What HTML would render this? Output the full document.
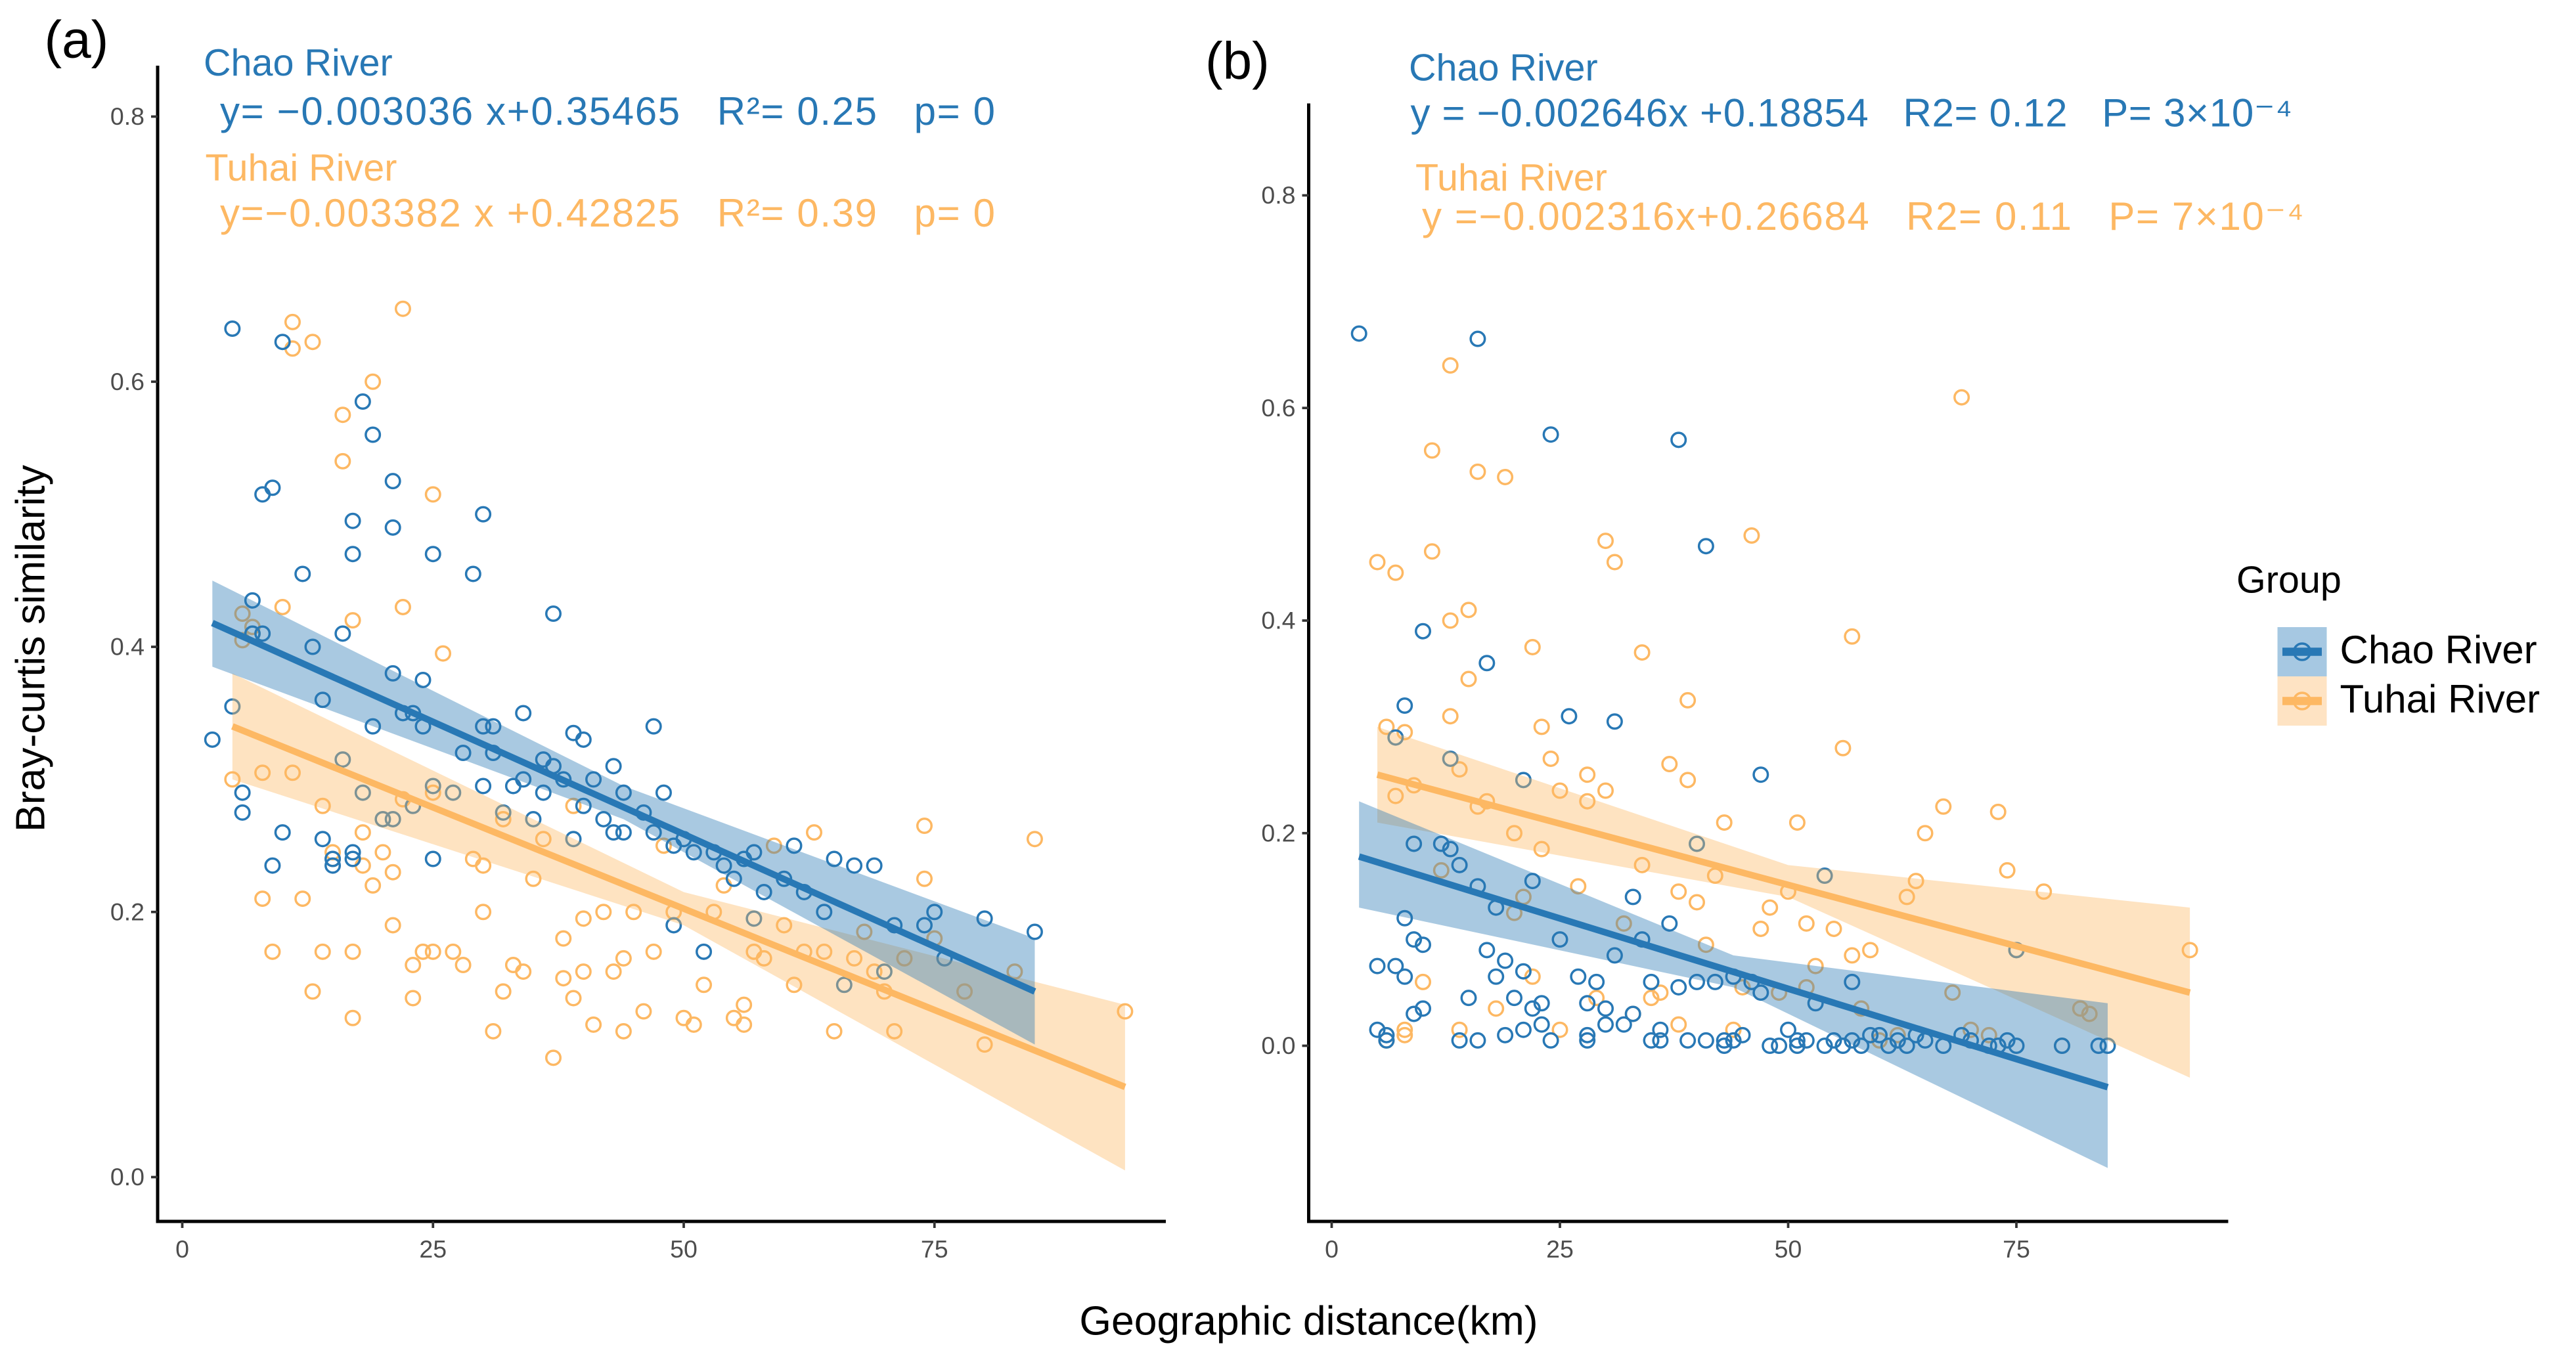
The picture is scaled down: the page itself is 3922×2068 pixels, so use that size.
<!DOCTYPE html>
<html><head><meta charset="utf-8"><style>
html,body{margin:0;padding:0;background:#fff;}
svg{display:block;}
text{font-family:"Liberation Sans",Arial,sans-serif;white-space:pre;}
</style></head><body>
<svg id="chart" width="3922" height="2068" viewBox="0 0 1568.8 827.2" xmlns="http://www.w3.org/2000/svg">
<g id="layer"></g>
</svg>
<script>
const yTicks=[0.0,0.2,0.4,0.6,0.8];
const xTicks=[0,25,50,75];
const chaoA=[[3,0.33],[5,0.64],[5,0.355],[6,0.29],[6,0.275],[7,0.435],[7,0.41],[8,0.41],[8,0.515],[9,0.52],[9,0.235],[10,0.63],[10,0.26],[12,0.455],[13,0.4],[14,0.255],[14,0.36],[15,0.24],[15,0.235],[16,0.41],[16,0.315],[17,0.47],[17,0.495],[17,0.24],[17,0.245],[18,0.29],[18,0.585],[19,0.34],[19,0.56],[20,0.27],[21,0.49],[21,0.525],[21,0.38],[21,0.27],[22,0.35],[23,0.35],[23,0.28],[24,0.34],[24,0.375],[25,0.47],[25,0.24],[25,0.295],[27,0.29],[28,0.32],[29,0.455],[30,0.5],[30,0.34],[30,0.295],[31,0.34],[31,0.32],[32,0.275],[33,0.295],[34,0.3],[34,0.35],[35,0.27],[36,0.315],[36,0.29],[37,0.425],[37,0.31],[38,0.3],[39,0.335],[39,0.255],[40,0.33],[40,0.28],[41,0.3],[42,0.27],[43,0.31],[43,0.26],[44,0.26],[44,0.29],[46,0.275],[47,0.34],[47,0.26],[48,0.29],[49,0.25],[49,0.19],[50,0.255],[51,0.245],[52,0.17],[53,0.245],[54,0.235],[55,0.225],[56,0.24],[57,0.245],[57,0.195],[58,0.215],[60,0.225],[61,0.25],[62,0.215],[64,0.2],[65,0.24],[66,0.145],[67,0.235],[69,0.235],[70,0.155],[71,0.19],[74,0.19],[75,0.2],[76,0.165],[80,0.195],[85,0.185]];
const tuhaiA=[[5,0.3],[6,0.425],[6,0.405],[7,0.41],[7,0.415],[8,0.21],[8,0.305],[9,0.17],[10,0.43],[11,0.645],[11,0.625],[11,0.305],[12,0.21],[13,0.63],[13,0.14],[14,0.17],[14,0.28],[15,0.245],[15,0.24],[16,0.575],[16,0.54],[17,0.17],[17,0.12],[17,0.42],[18,0.26],[18,0.235],[19,0.6],[19,0.22],[20,0.245],[21,0.19],[21,0.23],[22,0.655],[22,0.285],[22,0.43],[23,0.135],[23,0.16],[24,0.17],[25,0.17],[25,0.29],[25,0.515],[26,0.395],[27,0.17],[28,0.16],[29,0.24],[30,0.2],[30,0.235],[31,0.11],[32,0.27],[32,0.14],[33,0.16],[34,0.155],[35,0.225],[36,0.255],[37,0.09],[38,0.15],[38,0.18],[39,0.135],[39,0.28],[40,0.155],[40,0.195],[41,0.115],[42,0.2],[43,0.155],[44,0.11],[44,0.165],[45,0.2],[46,0.125],[47,0.17],[48,0.25],[49,0.2],[50,0.12],[51,0.115],[52,0.145],[53,0.2],[54,0.22],[55,0.12],[56,0.13],[56,0.115],[57,0.17],[58,0.165],[59,0.25],[60,0.19],[61,0.145],[62,0.17],[63,0.26],[64,0.17],[65,0.11],[67,0.165],[68,0.185],[69,0.155],[70,0.14],[71,0.11],[72,0.165],[74,0.265],[74,0.225],[75,0.18],[78,0.14],[80,0.1],[83,0.155],[85,0.255],[94,0.125]];
const chaoB=[[3,0.67],[5,0.075],[5,0.015],[6,0.01],[6,0.005],[7,0.075],[7,0.29],[8,0.32],[8,0.12],[8,0.065],[9,0.1],[9,0.03],[9,0.19],[10,0.39],[10,0.095],[10,0.035],[12,0.19],[13,0.27],[13,0.185],[14,0.17],[14,0.005],[15,0.045],[16,0.15],[16,0.665],[16,0.005],[17,0.36],[17,0.09],[18,0.065],[18,0.13],[19,0.08],[19,0.01],[20,0.045],[21,0.25],[21,0.015],[21,0.07],[22,0.155],[22,0.035],[23,0.04],[23,0.02],[24,0.575],[24,0.005],[25,0.1],[26,0.31],[27,0.065],[28,0.005],[28,0.01],[28,0.04],[29,0.06],[30,0.02],[30,0.035],[31,0.305],[31,0.085],[32,0.02],[33,0.14],[33,0.03],[34,0.1],[35,0.06],[35,0.005],[36,0.005],[36,0.015],[37,0.115],[38,0.57],[38,0.055],[39,0.005],[40,0.19],[40,0.06],[41,0.005],[41,0.47],[42,0.06],[43,0.005],[43,0.0],[44,0.005],[44,0.065],[45,0.01],[46,0.06],[47,0.255],[47,0.05],[48,0.0],[49,0.0],[50,0.015],[51,0.005],[51,0.0],[52,0.005],[53,0.04],[54,0.16],[54,0.0],[55,0.005],[56,0.0],[57,0.06],[57,0.005],[58,0.0],[59,0.01],[60,0.01],[61,0.0],[62,0.005],[63,0.0],[64,0.01],[65,0.005],[67,0.0],[69,0.01],[70,0.005],[72,0.0],[73,0.0],[74,0.005],[75,0.09],[75,0.0],[80,0.0],[84,0.0],[85,0.0]];
const tuhaiB=[[5,0.455],[6,0.005],[6,0.3],[7,0.445],[7,0.235],[8,0.295],[8,0.015],[8,0.01],[9,0.245],[10,0.06],[11,0.56],[11,0.465],[12,0.165],[13,0.64],[13,0.4],[13,0.31],[14,0.015],[14,0.26],[15,0.41],[15,0.345],[16,0.54],[16,0.225],[17,0.23],[18,0.035],[19,0.535],[20,0.2],[20,0.125],[21,0.14],[22,0.375],[22,0.065],[23,0.3],[23,0.185],[24,0.27],[25,0.015],[25,0.24],[27,0.15],[28,0.255],[28,0.23],[29,0.045],[30,0.475],[30,0.24],[31,0.455],[32,0.115],[33,0.03],[34,0.37],[34,0.17],[35,0.045],[36,0.05],[37,0.265],[38,0.145],[38,0.02],[39,0.325],[39,0.25],[40,0.135],[41,0.095],[42,0.16],[43,0.21],[44,0.015],[45,0.055],[46,0.48],[47,0.11],[48,0.13],[49,0.05],[50,0.145],[51,0.21],[52,0.055],[52,0.115],[53,0.075],[55,0.11],[56,0.28],[57,0.385],[57,0.085],[58,0.035],[59,0.09],[60,0.005],[62,0.01],[63,0.14],[64,0.155],[65,0.2],[67,0.225],[68,0.05],[69,0.61],[70,0.015],[72,0.01],[73,0.22],[74,0.165],[75,0.09],[78,0.145],[80,0.0],[82,0.035],[83,0.03],[94,0.09]];
// fit lines: [x0, y0, x1, y1]
const fitChaoA=[3,0.418,85,0.14];
const fitTuhaiA=[5,0.34,94,0.068];
const fitChaoB=[3,0.178,85,-0.039];
const fitTuhaiB=[5,0.255,94,0.05];
// confidence bands: [x, lower, upper]
const bandChaoA=[[3,0.385,0.45],[44,0.27,0.295],[85,0.10,0.18]];
const bandTuhaiA=[[5,0.30,0.38],[50,0.19,0.215],[94,0.005,0.13]];
const bandChaoB=[[3,0.13,0.23],[44,0.055,0.085],[85,-0.115,0.04]];
const bandTuhaiB=[[5,0.21,0.30],[50,0.14,0.17],[94,-0.03,0.13]];

const NS='http://www.w3.org/2000/svg';
const layer=document.getElementById('layer');
function mk(tag,attrs,parent){const e=document.createElementNS(NS,tag);for(const k in attrs)e.setAttribute(k,attrs[k]);(parent||layer).appendChild(e);return e;}
const BLUE='#2878b5', ORANGE='#fdb863';
const panels=[
 {id:'a',x0:111,kx:6.108,y0:717,ky:807.5,left:96,top:40,bottom:744,right:710,chao:chaoA,tuhai:tuhaiA,fc:fitChaoA,ft:fitTuhaiA,bc:bandChaoA,bt:bandTuhaiA,yl:88},
 {id:'b',x0:811,kx:5.56,y0:637,ky:647.5,left:797,top:63,bottom:744,right:1357,chao:chaoB,tuhai:tuhaiB,fc:fitChaoB,ft:fitTuhaiB,bc:bandChaoB,bt:bandTuhaiB,yl:789}
];
panels.forEach(p=>{
 const X=v=>p.x0+v*p.kx, Y=v=>p.y0-v*p.ky;
 const g=mk('g',{});
 
 
 function band(b,color,name){
  let d='M'+b.map(r=>X(r[0])+','+Y(r[2])).join(' L')+' L'+b.slice().reverse().map(r=>X(r[0])+','+Y(r[1])).join(' L')+' Z';
  const e=mk('path',{d:d,fill:color,'fill-opacity':0.4,stroke:'none'},g);
  
  
 }
 function pts(arr,color,name){
  const gg=mk('g',{},g);
  
  
  arr.forEach(a=>{
   const c=mk('circle',{cx:X(a[0]),cy:Y(a[1]),r:4.3,fill:'none',stroke:color,'stroke-width':1.4},gg);
   
   
  });
 }
 function fit(f,color,name){
  const e=mk('line',{x1:X(f[0]),y1:Y(f[1]),x2:X(f[2]),y2:Y(f[3]),stroke:color,'stroke-width':4},g);
  
  
 }
 pts(p.tuhai,ORANGE,'tuhai-points-'+p.id);
 pts(p.chao,BLUE,'chao-points-'+p.id);
 band(p.bt,ORANGE,'tuhai-band-'+p.id);
 band(p.bc,'#2878b5','chao-band-'+p.id);
 fit(p.ft,ORANGE,'tuhai-fit-'+p.id);
 fit(p.fc,BLUE,'chao-fit-'+p.id);
 const ax=mk('path',{d:`M${p.left},${p.top} L${p.left},${p.bottom} L${p.right},${p.bottom}`,fill:'none',stroke:'#000','stroke-width':2},g);
 
 
 yTicks.forEach(t=>{
  mk('line',{x1:p.left-4,x2:p.left,y1:Y(t),y2:Y(t),stroke:'#333','stroke-width':1.5},g);
  const tx=mk('text',{x:p.yl,y:Y(t)+5,'text-anchor':'end','font-size':15,fill:'#4d4d4d'},g);
  tx.textContent=t.toFixed(1);
  
  
 });
 xTicks.forEach(t=>{
  mk('line',{x1:X(t),x2:X(t),y1:p.bottom,y2:p.bottom+4,stroke:'#333','stroke-width':1.5},g);
  const tx=mk('text',{x:X(t),y:p.bottom+22,'text-anchor':'middle','font-size':15,fill:'#4d4d4d'},g);
  tx.textContent=t;
  
  
 });
});
</script>
<svg width="3922" height="2068" viewBox="0 0 1568.8 827.2" xmlns="http://www.w3.org/2000/svg" style="position:absolute;left:0;top:0">
<text x="27" y="35" font-size="32" fill="#000">(a)</text>
<text x="734" y="48" font-size="32" fill="#000">(b)</text>
<text x="124" y="46" font-size="23" fill="#2878b5">Chao River</text>
<text x="134" y="76" font-size="24" fill="#2878b5" textLength="472">y= −0.003036 x+0.35465   R²= 0.25   p= 0</text>
<text x="125" y="110" font-size="23" fill="#fdb863">Tuhai River</text>
<text x="134" y="138" font-size="24" fill="#fdb863" textLength="472">y=−0.003382 x +0.42825   R²= 0.39   p= 0</text>
<text x="858" y="49" font-size="23" fill="#2878b5">Chao River</text>
<text x="859" y="77" font-size="24" fill="#2878b5" textLength="537">y = −0.002646x +0.18854   R2= 0.12   P= 3×10⁻⁴</text>
<text x="862" y="116" font-size="23" fill="#fdb863">Tuhai River</text>
<text x="866" y="140" font-size="24" fill="#fdb863" textLength="537">y =−0.002316x+0.26684   R2= 0.11   P= 7×10⁻⁴</text>
<text transform="translate(27,395) rotate(-90)" text-anchor="middle" font-size="25" fill="#000">Bray-curtis similarity</text>
<text x="797" y="813" text-anchor="middle" font-size="25" fill="#000">Geographic distance(km)</text>
<g>
<text x="1362" y="361" font-size="23" fill="#000">Group</text>
<g>
<rect x="1387" y="382" width="30" height="30" fill="#a6c8e2"/>
<line x1="1390" y1="397" x2="1414" y2="397" stroke="#2878b5" stroke-width="5"/>
<circle cx="1402" cy="397" r="5" fill="none" stroke="#2878b5" stroke-width="1.4"/>
<text x="1425" y="404" font-size="24" fill="#000">Chao River</text>
</g>
<g>
<rect x="1387" y="412" width="30" height="30" fill="#fee3c3"/>
<line x1="1390" y1="427" x2="1414" y2="427" stroke="#fdb863" stroke-width="5"/>
<circle cx="1402" cy="427" r="5" fill="none" stroke="#fdb863" stroke-width="1.4"/>
<text x="1425" y="434" font-size="24" fill="#000">Tuhai River</text>
</g>
</g>
</svg>
</body></html>
